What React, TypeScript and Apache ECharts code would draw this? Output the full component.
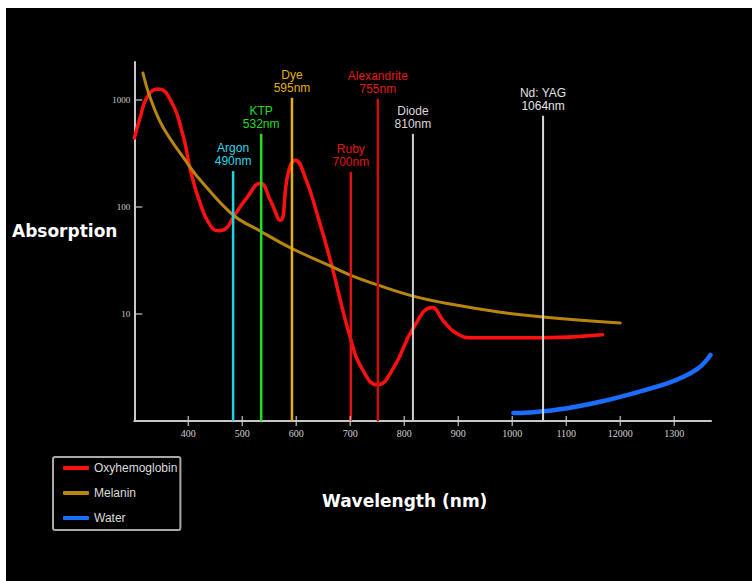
import React, { useEffect, useRef } from "react";
import * as echarts from "echarts";

// Axis ticks and labels
const xTickValues = [400, 500, 600, 700, 800, 900, 1000, 1100, 1200, 1300];
const xTickLabels = ["400", "500", "600", "700", "800", "900", "1000", "1100", "12000", "1300"];
const yTickValues = [10, 100, 1000];
const yTickLabels = ["10", "100", "1000"];

// Absorption curves: [wavelength, absorption]
const oxyhemoglobin: [number, number][] = [
  [300, 440], [311, 690], [324, 1070], [344, 1270], [367, 1000], [391, 450],
  [404, 220], [422, 108], [441, 67], [456, 60], [470, 63], [483, 80],
  [509, 123], [533, 167], [552, 115], [570, 75], [585, 207], [598, 274],
  [617, 186], [640, 81], [663, 32], [700, 6.0], [724, 2.94], [750, 2.18],
  [780, 3.14], [817, 7.45], [852, 11.5], [872, 8.66], [898, 6.54], [928, 6.0],
  [1057, 6.0], [1167, 6.4],
];
const melanin: [number, number][] = [
  [316, 1788], [329, 1067], [353, 559], [398, 258], [422, 179], [483, 84.2],
  [533, 59.7], [590, 41.4], [663, 28.1], [700, 23.1], [750, 18.7], [816, 14.7],
  [885, 12.4], [978, 10.4], [1057, 9.38], [1200, 8.24],
];
const water: [number, number][] = [
  [1002, 1.188], [1039, 1.206], [1102, 1.314], [1163, 1.514], [1224, 1.815],
  [1287, 2.25], [1317, 2.59], [1348, 3.22], [1367, 4.14],
];

// Lasers
const laserNames = ["Argon", "KTP", "Dye", "Ruby", "Alexandrite", "Diode", "Nd: YAG"];
const laserWavelengthLabels = ["490nm", "532nm", "595nm", "700nm", "755nm", "810nm", "1064nm"];
const laserPositions = [483, 535, 592, 701, 751, 816, 1057];
const laserTops = [216, 480, 1044, 211, 1021, 480, 708];
const laserColors = ["#22d2e4", "#1fe01f", "#e6b000", "#e31212", "#c80e0e", "#cfcfcf", "#d6d6d6"];
const laserLabelColors = ["#2fd6e6", "#22dd22", "#e0b010", "#e01616", "#e01a1a", "#d8d8d8", "#e2e2e2"];

const seriesNames = ["Oxyhemoglobin", "Melanin", "Water"];
const seriesColors = ["#ff1010", "#b8860f", "#1a6dff"];

export default function App() {
  const ref = useRef<HTMLDivElement>(null);

  useEffect(() => {
    if (!ref.current) return;
    const chart = echarts.init(ref.current, undefined, { renderer: "svg" });
    const axisColor = "#c8c8c8";

    const laserSeries = laserNames.map((name, i) => ({
      type: "line",
      name,
      z: 3,
      symbol: "circle",
      symbolSize: 1,
      showSymbol: true,
      silent: true,
      lineStyle: { color: laserColors[i], width: i >= 5 ? 2 : 2.5 },
      itemStyle: { color: laserColors[i] },
      data: [
        { value: [laserPositions[i], 1], label: { show: false } },
        {
          value: [laserPositions[i], laserTops[i]],
          label: {
            show: true,
            position: "top",
            distance: 3,
            formatter: `${name}\n${laserWavelengthLabels[i]}`,
            color: laserLabelColors[i],
            fontFamily: "Liberation Sans",
            fontSize: 12,
            lineHeight: 13,
            align: "center",
          },
        },
      ],
    }));

    const curve = (idx: number, data: [number, number][], width: number, smooth: number) => ({
      type: "line",
      name: seriesNames[idx],
      data,
      smooth,
      symbol: "none",
      z: 2,
      silent: true,
      lineStyle: { color: seriesColors[idx], width, cap: "round" },
      itemStyle: { color: seriesColors[idx] },
    });

    chart.setOption({
      animation: false,
      backgroundColor: "#000",
      grid: { left: 128.3, right: 41, top: 54, bottom: 160 },
      legend: {
        orient: "vertical",
        left: 47,
        top: 449,
        padding: [5, 3, 6, 10],
        itemGap: 13,
        itemWidth: 26,
        itemHeight: 4,
        icon: "roundRect",
        borderColor: "#a8a8a8",
        borderWidth: 2,
        borderRadius: 2,
        selectedMode: false,
        data: seriesNames,
        textStyle: { color: "#dcdcdc", fontFamily: "Liberation Sans", fontSize: 12, lineHeight: 12 },
      },
      xAxis: {
        type: "value",
        min: 300,
        max: 1368,
        interval: 100,
        splitLine: { show: false },
        axisLine: { show: true, lineStyle: { color: axisColor, width: 2 } },
        axisTick: { show: false },
        axisLabel: {
          color: "#cfcfcf",
          fontFamily: "Liberation Serif",
          fontSize: 10,
          margin: 7,
          formatter: (v: number) => {
            const i = xTickValues.indexOf(v);
            return i >= 0 ? xTickLabels[i] : "";
          },
        },
      },
      yAxis: {
        type: "log",
        min: 1,
        max: 2265,
        splitLine: { show: false },
        axisLine: { show: true, lineStyle: { color: axisColor, width: 2 } },
        axisTick: { show: false },
        axisLabel: {
          color: "#cfcfcf",
          fontFamily: "Liberation Serif",
          fontSize: 9,
          margin: 4,
          formatter: (v: number) => {
            const i = yTickValues.indexOf(v);
            return i >= 0 ? yTickLabels[i] : "";
          },
        },
      },
      graphic: [
        {
          type: "text",
          x: 6,
          y: 223,
          style: {
            text: "Absorption",
            fill: "#ffffff",
            font: 'bold 17px "DejaVu Sans"',
            verticalAlign: "middle",
          },
        },
        {
          type: "text",
          x: 316,
          y: 493,
          style: {
            text: "Wavelength (nm)",
            fill: "#ffffff",
            font: 'bold 17px "DejaVu Sans"',
            verticalAlign: "middle",
          },
        },
      ],
      series: [
        curve(0, oxyhemoglobin, 3.5, 0.5),
        curve(1, melanin, 3, 0.4),
        curve(2, water, 4.5, 0.4),
        ...laserSeries,
        {
          type: "scatter",
          name: "xticks",
          silent: true,
          clip: false,
          z: 4,
          symbol: "rect",
          symbolSize: [1.5, 10],
          itemStyle: { color: axisColor },
          data: xTickValues.map((v) => [v, 1]),
        },
        {
          type: "scatter",
          name: "yticks",
          silent: true,
          clip: false,
          z: 4,
          symbol: "rect",
          symbolSize: [8, 1.5],
          symbolOffset: [4, 0],
          itemStyle: { color: axisColor },
          data: yTickValues.map((v) => [300, v]),
        },
      ],
    });

    return () => chart.dispose();
  }, []);

  return (
    <div
      ref={ref}
      style={{ position: "fixed", left: 6, top: 8, width: 746, height: 573 }}
    />
  );
}
